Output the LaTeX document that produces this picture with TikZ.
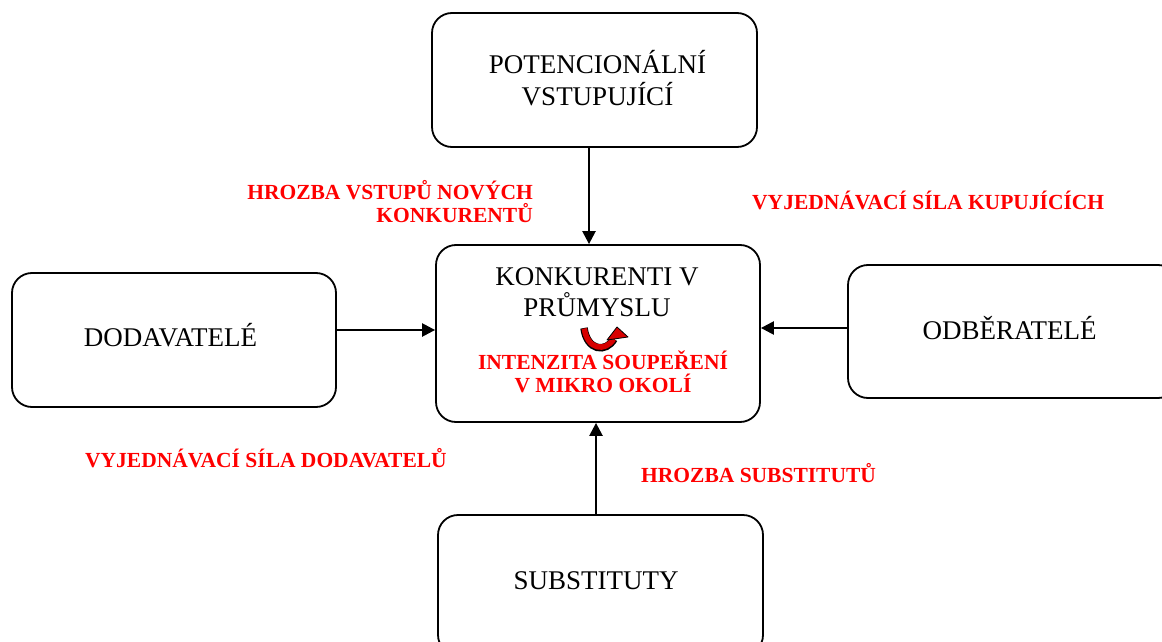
\documentclass[tikz,border=0pt]{standalone}
\usepackage{fontspec}
\setmainfont{Liberation Serif}
\usetikzlibrary{arrows.meta}
\definecolor{redlab}{RGB}{255,0,0}
\definecolor{arrred}{RGB}{215,0,0}
\begin{document}
\begin{tikzpicture}[x=1pt,y=-1pt,
  box/.style={draw=black,line width=1.8pt,rounded corners=20pt,minimum width=#1,inner sep=0pt},
  blacktxt/.style={font=\fontsize{27}{31.5}\selectfont,align=center,inner sep=0pt,text=black},
  redtxt/.style={font=\fontsize{21.5}{23}\selectfont\bfseries,inner sep=0pt,text=redlab},
  arr/.style={draw=black,line width=2.4pt,-{Triangle[length=13pt,width=13pt]}}
]
\useasboundingbox (0,0) rectangle (1162,642);
\clip (0,0) rectangle (1162,642);
% boxes
\node[box=325pt,minimum height=134pt] (top) at (594.5,80) {};
\node[box=324pt,minimum height=177pt] (ctr) at (598,333.5) {};
\node[box=324pt,minimum height=134pt] (lft) at (174,340) {};
\node[box=330pt,minimum height=133pt] (rgt) at (1013,331.5) {};
\node[box=325pt,minimum height=140pt] (bot) at (600.5,585) {};
% box texts
\node[blacktxt] (toptxt) at (597.5,78) {POTENCIONÁLNÍ\\VSTUPUJÍCÍ};
\node[blacktxt] (ctrtxt) at (597,292) {KONKURENTI V\\PRŮMYSLU};
\node[blacktxt] (lfttxt) at (170.5,335) {DODAVATELÉ};
\node[blacktxt] (rgttxt) at (1009.5,328) {ODBĚRATELÉ};
\node[blacktxt] (bottxt) at (596,581) {SUBSTITUTY};
\node[redtxt,align=center] (ctrred) at (603,372) {INTENZITA SOUPEŘENÍ\\V MIKRO OKOLÍ};
% curved arrow
\draw[black,line width=7.5pt] (584,328) .. controls (587,351) and (606,353) .. (614,339);
\draw[arrred,line width=5.5pt] (584.3,328.5) .. controls (587.3,350) and (605.6,352) .. (613.6,339);
\filldraw[fill=arrred,draw=black,line width=0.8pt,line join=round] (607,340) -- (617,327) -- (628,337) -- cycle;
% arrows
\draw[arr] ([xshift=-5.5pt]top.south) -- ([xshift=-9pt]ctr.north);
\draw[arr] ([yshift=10pt]lft.east) -- ([yshift=3.5pt]ctr.west);
\draw[arr] ([yshift=3.5pt]rgt.west) -- ([yshift=5.5pt]ctr.east);
\draw[arr] ([xshift=-4.5pt]bot.north) -- ([xshift=-2pt]ctr.south);
% red labels
\node[redtxt,align=right,anchor=east] (l1) at (533,201.5) {HROZBA VSTUPŮ NOVÝCH\\KONKURENTŮ};
\node[redtxt,anchor=west] (l2) at (752,200) {VYJEDNÁVACÍ SÍLA KUPUJÍCÍCH};
\node[redtxt,anchor=west] (l3) at (85,458) {VYJEDNÁVACÍ SÍLA DODAVATELŮ};
\node[redtxt,anchor=west] (l4) at (641,473) {HROZBA SUBSTITUTŮ};
\end{tikzpicture}
\end{document}
